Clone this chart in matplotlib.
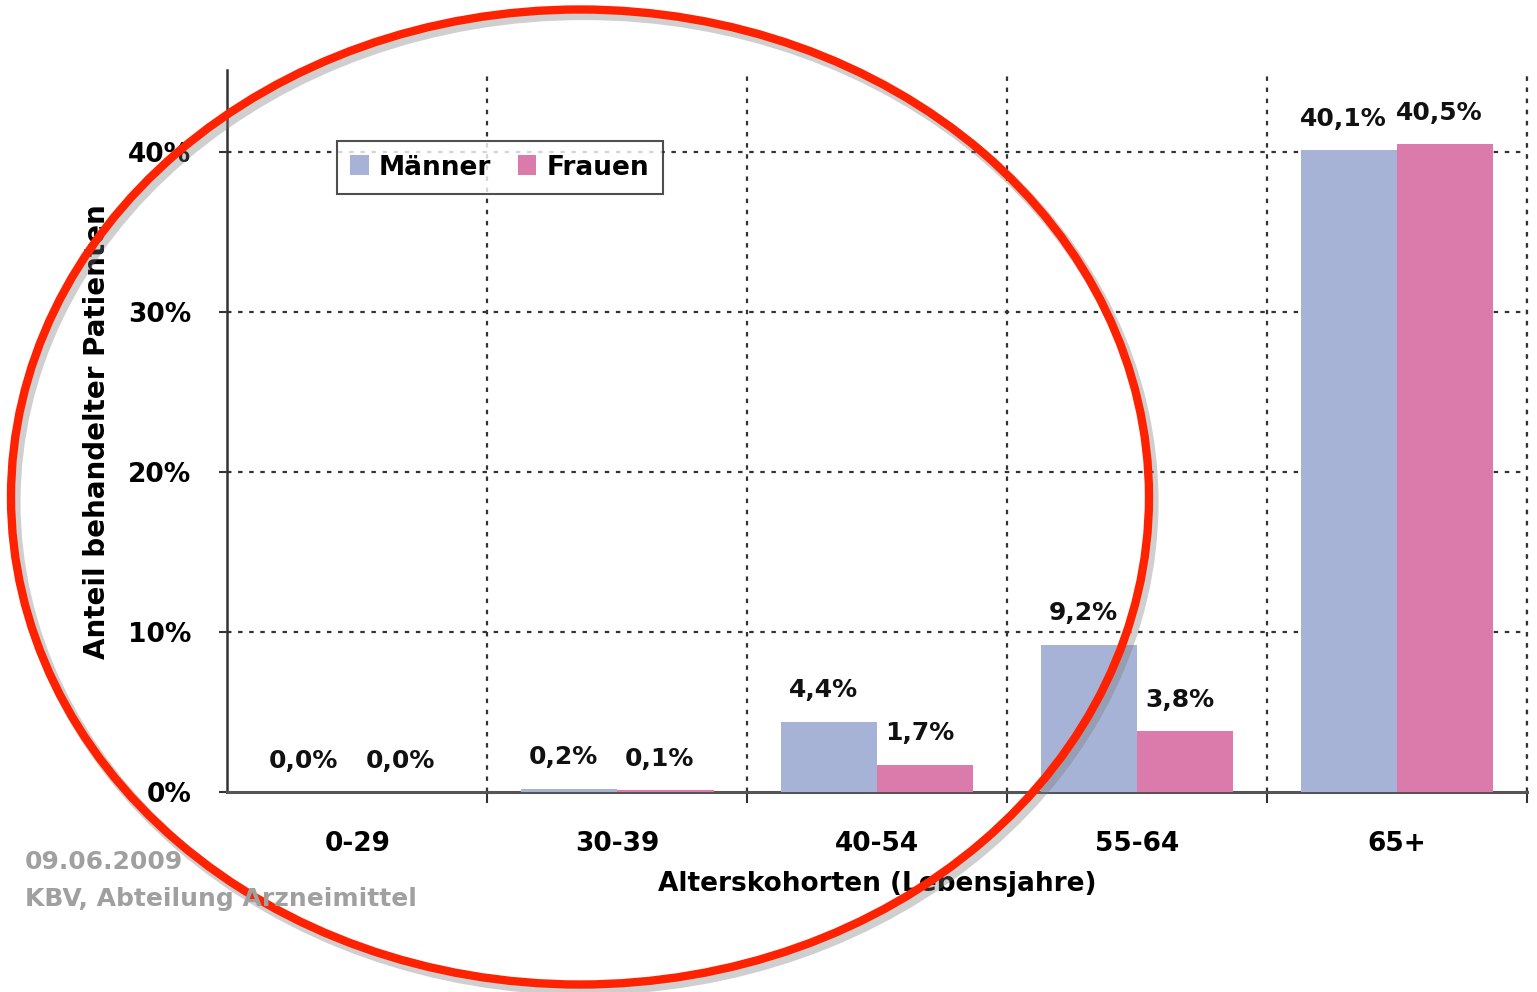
import numpy as np
import matplotlib.pyplot as plt
from matplotlib.patches import Ellipse

# daten
kategorien = ["0-29", "30-39", "40-54", "55-64", "65+"]
maenner = [0.0, 0.2, 4.4, 9.2, 40.1]
frauen = [0.0, 0.1, 1.7, 3.8, 40.5]
labels_m = ["0,0%", "0,2%", "4,4%", "9,2%", "40,1%"]
labels_f = ["0,0%", "0,1%", "1,7%", "3,8%", "40,5%"]
y_ticks = [0, 10, 20, 30, 40]

farbe_m = "#a7b3d6"
farbe_f = "#db7bab"

plt.rcParams['font.family'] = ['DejaVu Sans']
plt.rcParams['font.weight'] = 'bold'

fig = plt.figure(figsize=(15.37, 9.92), dpi=100)
ax = fig.add_axes([0.148, 0.2016, 0.8455, 0.7274])

x = np.arange(len(kategorien))
w = 0.37
ax.bar(x - w/2, maenner, w, color=farbe_m, label="Männer", zorder=3)
ax.bar(x + w/2, frauen, w, color=farbe_f, label="Frauen", zorder=3)

# werte ueber den balken
for i in range(len(kategorien)):
    ax.annotate(labels_m[i], (x[i] - w/2, maenner[i]), xytext=(-4, 14),
                textcoords="offset points", ha="center", va="bottom",
                fontsize=18, fontweight="bold", color="#111111")
    ax.annotate(labels_f[i], (x[i] + w/2, frauen[i]), xytext=(-4, 14),
                textcoords="offset points", ha="center", va="bottom",
                fontsize=18, fontweight="bold", color="#111111")

ax.set_xlim(-0.5, len(kategorien) - 0.5)
ax.set_ylim(0, 45.1)
ax.set_yticks(y_ticks)
ax.set_yticklabels([f"{v}%" for v in y_ticks], fontsize=19, fontweight="bold")
ax.set_xticks(x)
ax.set_xticklabels(kategorien, fontsize=19, fontweight="bold")
ax.tick_params(axis="x", length=0, pad=28)
ax.tick_params(axis="y", length=6, width=1.5, pad=20, color="#333333")

# gitter
for yv in y_ticks[1:]:
    ax.axhline(yv, color="#333333", linestyle=(0, (2, 3)), linewidth=1.6, zorder=1)
for xv in np.arange(0.5, len(kategorien), 1.0):
    ax.axvline(xv, color="#333333", linestyle=(0, (2, 3)), linewidth=1.6, zorder=1)
    ax.plot([xv, xv], [0, -0.6], color="#333333", lw=1.5, clip_on=False)
ax.plot([len(kategorien) - 0.5] * 2, [0, 45.1], color="#333333",
        linestyle=(0, (2, 3)), linewidth=1.6, clip_on=False)

for s in ["top", "right"]:
    ax.spines[s].set_visible(False)
ax.spines["left"].set_color("#333333")
ax.spines["left"].set_linewidth(1.8)
ax.spines["bottom"].set_color("#555555")
ax.spines["bottom"].set_linewidth(2.2)

ax.set_xlabel("Alterskohorten (Lebensjahre)", fontsize=19, fontweight="bold", labelpad=10)
ax.set_ylabel("Anteil behandelter Patienten", fontsize=20, fontweight="bold", labelpad=12)

leg = ax.legend(loc="upper left", bbox_to_anchor=(0.074, 0.92), ncol=2,
                fontsize=19, frameon=True, fancybox=False, handlelength=0.7,
                handleheight=0.8, handletextpad=0.4, columnspacing=1.0,
                borderpad=0.5)
leg.get_frame().set_edgecolor("#222222")
leg.get_frame().set_linewidth(1.5)
for t in leg.get_texts():
    t.set_fontweight("bold")

fig.text(25/1537, 1 - 862/992, "09.06.2009", fontsize=18, fontweight="bold",
         color="#a0a0a0", va="center")
fig.text(25/1537, 1 - 899/992, "KBV, Abteilung Arzneimittel", fontsize=18,
         fontweight="bold", color="#a0a0a0", va="center")

# roter kreis mit schatten
schatten = Ellipse((584/1537, 1 - 502/992), 1138/1537, 975/992, transform=fig.transFigure,
                   fill=False, edgecolor="#777777", linewidth=8, alpha=0.35)
kreis = Ellipse((580/1537, 1 - 497/992), 1138/1537, 975/992, transform=fig.transFigure,
                fill=False, edgecolor="#ff2200", linewidth=6)
fig.add_artist(schatten)
fig.add_artist(kreis)

fig.savefig("out.png", dpi=100)
